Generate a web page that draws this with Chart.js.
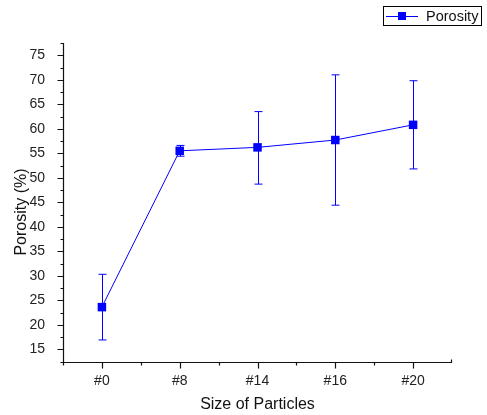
<!DOCTYPE html>
<html>
<head>
<meta charset="utf-8">
<script src="https://cdn.jsdelivr.net/npm/chart.js@4"></script>
<style>
    html, body { margin: 0; padding: 0; background: #fff; }
    #wrap { width: 487px; height: 415px; }
</style>
</head>
<body>
<div id="wrap"><canvas id="porosityChart"></canvas></div>
<script>
// Data
const categories = ['#0', '#8', '#14', '#16', '#20'];
const porosity = [23.6, 55.5, 56.2, 57.7, 60.8];
const errLow = [16.9, 54.4, 48.7, 44.4, 51.8];
const errHigh = [30.3, 56.6, 63.5, 71.0, 69.8];
const yTicks = [15, 20, 25, 30, 35, 40, 45, 50, 55, 60, 65, 70, 75];
const yMinorTicks = [12.5, 17.5, 22.5, 27.5, 32.5, 37.5, 42.5, 47.5, 52.5, 57.5, 62.5, 67.5, 72.5, 77.5];

const blue = '#0000ff';
const fontFamily = '"Liberation Sans", Arial, sans-serif';

// error bars, axis lines, tick marks, y title and the boxed legend
const decorPlugin = {
    id: 'decor',
    afterDatasetsDraw(chart) {
        const ctx = chart.ctx;
        const x = chart.scales.x;
        const y = chart.scales.y;
        ctx.save();
        ctx.strokeStyle = blue;
        ctx.lineWidth = 1;
        categories.forEach((c, i) => {
            const px = Math.round(x.getPixelForValue(i)) + 0.5;
            const top = y.getPixelForValue(errHigh[i]);
            const bot = y.getPixelForValue(errLow[i]);
            ctx.beginPath();
            ctx.moveTo(px, top); ctx.lineTo(px, bot);
            ctx.moveTo(px - 4, top); ctx.lineTo(px + 4, top);
            ctx.moveTo(px - 4, bot); ctx.lineTo(px + 4, bot);
            ctx.stroke();
        });
        ctx.restore();
    },
    afterDraw(chart) {
        const ctx = chart.ctx;
        const area = chart.chartArea;
        const x = chart.scales.x;
        const y = chart.scales.y;
        ctx.save();
        ctx.strokeStyle = '#111';
        ctx.lineWidth = 1.2;
        ctx.beginPath();
        const ax = Math.round(area.left) + 0.5;
        const ay = Math.round(area.bottom) + 0.5;
        ctx.moveTo(ax, area.top); ctx.lineTo(ax, ay); ctx.lineTo(area.right, ay);
        // y ticks
        yTicks.forEach(v => {
            const py = Math.round(y.getPixelForValue(v)) + 0.5;
            ctx.moveTo(ax, py); ctx.lineTo(ax - 6, py);
        });
        yMinorTicks.forEach(v => {
            const py = Math.round(y.getPixelForValue(v)) + 0.5;
            ctx.moveTo(ax, py); ctx.lineTo(ax - 3, py);
        });
        // x ticks
        categories.forEach((c, i) => {
            const px = Math.round(x.getPixelForValue(i)) + 0.5;
            ctx.moveTo(px, ay); ctx.lineTo(px, ay + 6);
        });
        for (let i = -0.5; i < categories.length - 0.5; i += 1) {
            const px = Math.round(x.getPixelForValue(i)) + 0.5;
            ctx.moveTo(px, ay); ctx.lineTo(px, ay + 3);
        }
        const rx = Math.round(area.right) - 0.5;
        ctx.moveTo(rx, ay); ctx.lineTo(rx, ay - 3);
        ctx.stroke();

        // y axis title, sits a bit below the plot centre in the original
        ctx.fillStyle = '#111';
        ctx.font = '16px ' + fontFamily;
        ctx.textAlign = 'center';
        ctx.textBaseline = 'middle';
        ctx.translate(22, 212);
        ctx.rotate(-Math.PI / 2);
        ctx.fillText('Porosity (%)', 0, 0);
        ctx.setTransform(1, 0, 0, 1, 0, 0);

        // legend
        ctx.strokeStyle = '#000';
        ctx.lineWidth = 1;
        ctx.strokeRect(383.5, 6.5, 98, 19);
        ctx.strokeStyle = blue;
        ctx.beginPath();
        ctx.moveTo(386, 16.5); ctx.lineTo(418, 16.5);
        ctx.stroke();
        ctx.fillStyle = blue;
        ctx.fillRect(398, 12, 8, 8);
        ctx.fillStyle = '#111';
        ctx.font = '14.5px ' + fontFamily;
        ctx.textBaseline = 'middle';
        ctx.textAlign = 'left';
        ctx.fillText('Porosity', 426, 16.5);
        ctx.restore();
    }
};

const ctx = document.getElementById('porosityChart').getContext('2d');
const chart = new Chart(ctx, {
    type: 'line',
    data: {
        labels: categories,
        datasets: [{
            label: 'Porosity',
            data: porosity,
            borderColor: blue,
            backgroundColor: blue,
            borderWidth: 1,
            pointStyle: 'rect',
            pointRadius: 6,
            pointBorderWidth: 0,
            tension: 0
        }]
    },
    options: {
        responsive: true,
        maintainAspectRatio: false,
        animation: false,
        layout: {
            padding: { top: 43, right: 35, left: 0, bottom: 0 }
        },
        plugins: {
            legend: { display: false },
            tooltip: { enabled: false }
        },
        scales: {
            x: {
                type: 'category',
                offset: true,
                grid: { display: false },
                border: { display: false },
                ticks: {
                    color: '#222',
                    padding: 3,
                    font: { family: fontFamily, size: 14 }
                },
                title: {
                    display: true,
                    text: 'Size of Particles',
                    color: '#111',
                    padding: { top: 0, bottom: 1 },
                    font: { family: fontFamily, size: 16 }
                },
                afterFit: scale => { scale.height = 53; }
            },
            y: {
                min: 12.4,
                max: 77.5,
                grid: { display: false },
                border: { display: false },
                afterBuildTicks: scale => {
                    scale.ticks = yTicks.map(v => ({ value: v }));
                },
                ticks: {
                    color: '#222',
                    padding: 10,
                    font: { family: fontFamily, size: 14 }
                },
                afterFit: scale => { scale.width = 63; }
            }
        }
    },
    plugins: [decorPlugin]
});
</script>
</body>
</html>
